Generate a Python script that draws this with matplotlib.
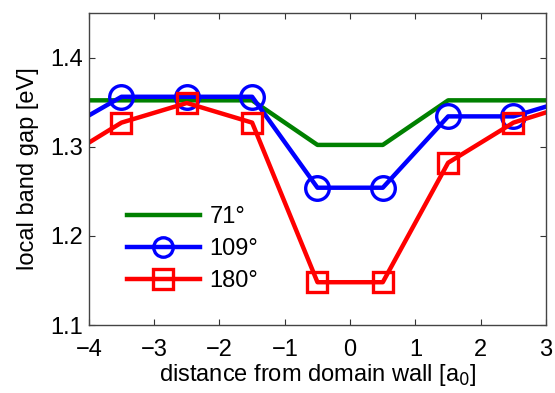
import matplotlib
matplotlib.use("Agg")
import matplotlib.pyplot as plt

x = [-4.5, -3.5, -2.5, -1.5, -0.5, 0.5, 1.5, 2.5, 3.5]
gap71 = [1.352, 1.352, 1.352, 1.352, 1.302, 1.302, 1.352, 1.352, 1.352]
gap109 = [1.314, 1.356, 1.356, 1.356, 1.254, 1.254, 1.334, 1.334, 1.356]
gap180 = [1.282, 1.327, 1.349, 1.327, 1.148, 1.148, 1.282, 1.327, 1.350]
labels = ["71°", "109°", "180°"]
xticks = [-4, -3, -2, -1, 0, 1, 2, 3]
yticks = [1.1, 1.2, 1.3, 1.4]

plt.rcParams['font.family'] = ['Liberation Sans', 'DejaVu Sans']
fig = plt.figure(figsize=(5.55, 3.93), dpi=100)
ax = fig.add_axes([0.160, 0.173, 0.824, 0.794])

ax.plot(x, gap71, color=(0, 0.5, 0), lw=3.2, label=labels[0])
ax.plot(x, gap109, color=(0, 0, 1), lw=3.2, marker='o', ms=17, mfc='none', mew=2.4, label=labels[1])
ax.plot(x, gap180, color=(1, 0, 0), lw=3.2, marker='s', ms=14, mfc='none', mew=2.4, label=labels[2])

ax.set_xlim(-4, 3)
ax.set_ylim(1.1, 1.45)
ax.set_xticks(xticks)
ax.set_xticklabels(["\u2212" + str(-t) if t < 0 else str(t) for t in xticks])
ax.set_yticks(yticks)
ax.set_yticklabels([f"{t:.1f}" for t in yticks])
ax.tick_params(direction='in', top=True, right=True, labelsize=17, length=4, width=0.8,
               color='#333333')
ax.tick_params(axis='x', pad=10)
ax.tick_params(axis='y', pad=4)
for s in ax.spines.values():
    s.set_color('#444444')
    s.set_linewidth(1.0)

ax.set_xlabel("distance from domain wall [a$_0$]", fontsize=17, labelpad=1)
ax.set_ylabel("local band gap [eV]", fontsize=17, labelpad=8)

leg = ax.legend(loc='lower left', bbox_to_anchor=(0.083, 0.105), frameon=False, fontsize=17,
                handlelength=3.1, handletextpad=0.4, labelspacing=0.42, borderaxespad=0,
                borderpad=0)
for h in leg.legend_handles:
    if h.get_marker() == 'o':
        h.set_markersize(14)

fig.savefig("out.png", dpi=100)
